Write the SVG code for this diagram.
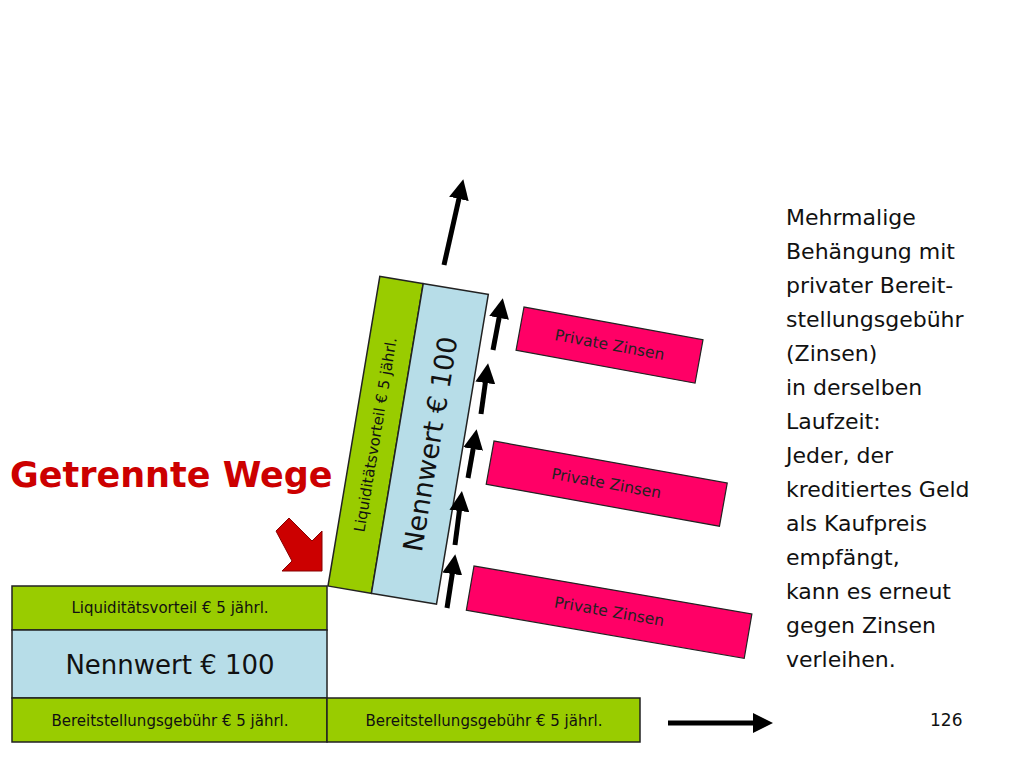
<svg xmlns="http://www.w3.org/2000/svg" width="1024" height="768" viewBox="0 0 1024 768">
<style>
.g{fill:#99cc00;stroke:#222;stroke-width:1.5}
.b{fill:#b7dde8;stroke:#222;stroke-width:1.5}
.p{fill:#ff0066;stroke:#222;stroke-width:1.2}
text{font-family:"DejaVu Sans","Liberation Sans",sans-serif;fill:#111}
.s{font-size:15px}
.pz{font-size:15.5px;fill:#222}
.ar{stroke:#000;stroke-width:5;fill:none}
</style>
<defs>
<marker id="ah" markerWidth="4" markerHeight="4" refX="1" refY="2" orient="auto" markerUnits="strokeWidth"><path d="M0,0L4,2L0,4z" fill="#000"/></marker>
</defs>
<rect width="1024" height="768" fill="#fff"/>
<text x="10" y="487" font-size="35" font-weight="bold" style="fill:#cc0000">Getrennte Wege</text>
<g id="left-liq"><rect class="g" x="12" y="586" width="315" height="44"/><text class="s" x="170" y="613" text-anchor="middle">Liquiditätsvorteil € 5 jährl.</text></g>
<g id="left-nenn"><rect class="b" x="12" y="630" width="315" height="68"/><text x="170" y="674" font-size="26" text-anchor="middle">Nennwert € 100</text></g>
<g id="left-bereit"><rect class="g" x="12" y="698" width="315" height="44"/><text class="s" x="170" y="726" text-anchor="middle">Bereitstellungsgebühr € 5 jährl.</text></g>
<g id="right-bereit"><rect class="g" x="327" y="698" width="313" height="44"/><text class="s" x="484" y="726" text-anchor="middle">Bereitstellungsgebühr € 5 jährl.</text></g>
<g id="tilted" transform="translate(328,586) rotate(9.5)">
<rect class="g" x="0" y="-314" width="44" height="314"/>
<rect class="b" x="44" y="-314" width="66" height="314"/>
<text class="s" transform="translate(27,-157) rotate(-90)" text-anchor="middle">Liquiditätsvorteil € 5 jährl.</text>
<text font-size="27" transform="translate(87,-157) rotate(-90)" text-anchor="middle">Nennwert € 100</text>
</g>
<g id="pz1" transform="translate(524,307) rotate(10.4)"><rect class="p" x="0" y="0" width="182" height="44"/><text class="pz" x="91" y="27" text-anchor="middle">Private Zinsen</text></g>
<g id="pz2" transform="translate(494,441) rotate(10.2)"><rect class="p" x="0" y="0" width="237" height="44"/><text class="pz" x="118" y="27" text-anchor="middle">Private Zinsen</text></g>
<g id="pz3" transform="translate(474,566) rotate(9.8)"><rect class="p" x="0" y="0" width="282" height="45"/><text class="pz" x="141" y="27" text-anchor="middle">Private Zinsen</text></g>
<g id="connectors">
<line class="ar" x1="444" y1="265" x2="460" y2="194" marker-end="url(#ah)"/>
<line class="ar" x1="493" y1="350" x2="500" y2="313" marker-end="url(#ah)"/>
<line class="ar" x1="481" y1="414" x2="486" y2="378" marker-end="url(#ah)"/>
<line class="ar" x1="468" y1="478" x2="474" y2="444" marker-end="url(#ah)"/>
<line class="ar" x1="455" y1="545" x2="460" y2="506" marker-end="url(#ah)"/>
<line class="ar" x1="447" y1="608" x2="453" y2="569" marker-end="url(#ah)"/>
<line class="ar" x1="668" y1="723" x2="758" y2="723" marker-end="url(#ah)"/>
<path d="M276,531 L289,518 L312,541 L322,531 L322,571 L282,571 L292,561 Z" fill="#cc0000" stroke="#800" stroke-width="1"/>
</g>
<g id="note" font-size="22">
<text x="786" y="225">Mehrmalige</text>
<text x="786" y="259">Behängung mit</text>
<text x="786" y="293">privater Bereit-</text>
<text x="786" y="327">stellungsgebühr</text>
<text x="786" y="361">(Zinsen)</text>
<text x="786" y="395">in derselben</text>
<text x="786" y="429">Laufzeit:</text>
<text x="786" y="463">Jeder, der</text>
<text x="786" y="497">kreditiertes Geld</text>
<text x="786" y="531">als Kaufpreis</text>
<text x="786" y="565">empfängt,</text>
<text x="786" y="599">kann es erneut</text>
<text x="786" y="633">gegen Zinsen</text>
<text x="786" y="667">verleihen.</text>
</g>
<text x="930" y="726" font-size="17">126</text>
</svg>
